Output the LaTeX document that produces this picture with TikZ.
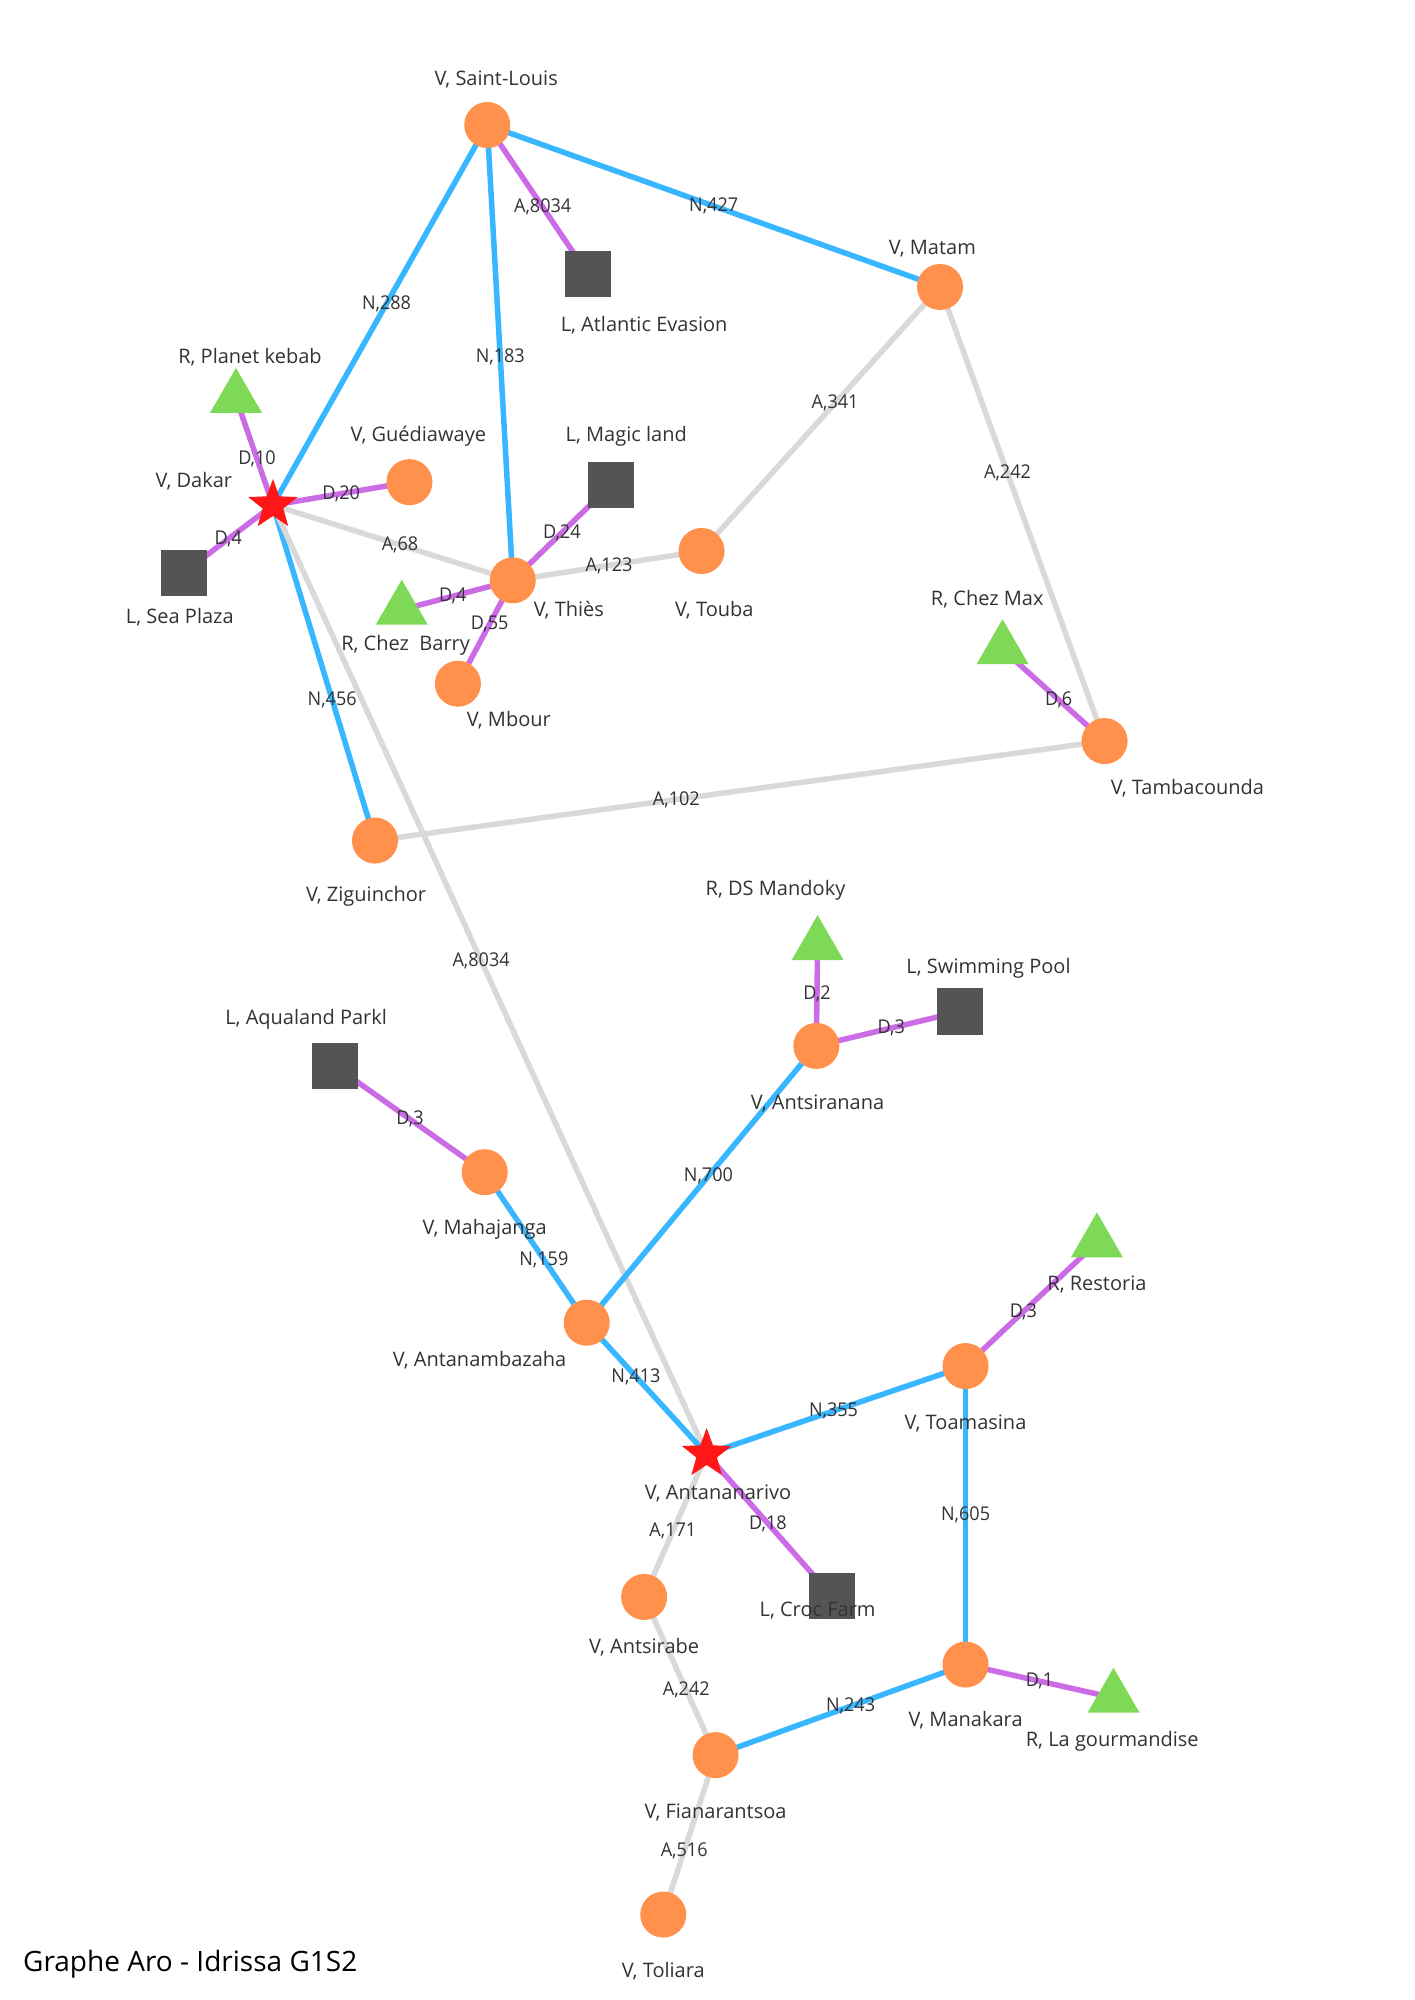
\documentclass[tikz,border=0pt]{standalone}
\usepackage{fontspec}
\setmainfont{Open Sans}
\newfontfamily\edgefont[FakeStretch=0.95]{Open Sans}
\usepackage{xcolor}
\usepackage{tikz}
\usetikzlibrary{shapes.geometric,backgrounds}

\definecolor{villeorange}{HTML}{FF914D}
\definecolor{capitalered}{HTML}{FF1616}
\definecolor{loisirgray}{HTML}{545454}
\definecolor{restogreen}{HTML}{7ED957}
\definecolor{nationalblue}{HTML}{38B6FF}
\definecolor{airgray}{HTML}{D9D9D9}
\definecolor{directpurple}{HTML}{CB6CE6}
\definecolor{txt}{HTML}{333333}

\tikzset{
    ville/.style={circle, fill=villeorange, minimum size=46pt, inner sep=0pt},
    capitale/.style={star, star points=5, star point ratio=2.4, fill=capitalered, minimum size=52pt, inner sep=0pt},
    loisir/.style={rectangle, fill=loisirgray, minimum size=46pt, inner sep=0pt},
    resto/.style={regular polygon, regular polygon sides=3, fill=restogreen, minimum size=60pt, inner sep=0pt},
    lbl/.style={font=\fontsize{20}{24}\selectfont, text=txt, inner sep=0pt},
    elbl/.style={font=\edgefont\fontsize{19}{22}\selectfont, text=txt, inner sep=0pt},
    titre/.style={font=\fontsize{28}{32}\selectfont, text=black, inner sep=0pt},
    nat/.style={draw=nationalblue, line width=5.5pt},
    aer/.style={draw=airgray, line width=5.5pt},
    dir/.style={draw=directpurple, line width=5.5pt}
}

\begin{document}
\begin{tikzpicture}[x=1.275pt, y=-1.275pt]
    \useasboundingbox (0,0) rectangle (1109,1568);

    % Senegal
    \node[ville] (saintlouis) at (382,98) {};
    \node[loisir] (atlantic) at (461,215) {};
    \node[ville] (matam) at (737,225) {};
    \node[resto] (planetkebab) at (185,312) {};
    \node[ville] (guediawaye) at (321,378) {};
    \node[loisir] (magicland) at (479,380) {};
    \node[capitale] (dakar) at (214,396) {};
    \node[loisir] (seaplaza) at (144,449) {};
    \node[ville] (thies) at (402,455) {};
    \node[resto] (chezbarry) at (315,478) {};
    \node[ville] (touba) at (550,432) {};
    \node[ville] (mbour) at (359,536) {};
    \node[resto] (chezmax) at (786,509) {};
    \node[ville] (tambacounda) at (866,581) {};
    \node[ville] (ziguinchor) at (294,659) {};

    % Madagascar
    \node[resto] (dsmandoky) at (641,741) {};
    \node[loisir] (swimmingpool) at (753,793) {};
    \node[ville] (antsiranana) at (640,820) {};
    \node[loisir] (aqualand) at (263,836) {};
    \node[ville] (mahajanga) at (380,919) {};
    \node[resto] (restoria) at (860,974) {};
    \node[ville] (antanambazaha) at (460,1037) {};
    \node[ville] (toamasina) at (757,1071) {};
    \node[capitale] (antananarivo) at (554,1140) {};
    \node[ville] (antsirabe) at (505,1252) {};
    \node[loisir] (crocfarm) at (652,1251) {};
    \node[ville] (manakara) at (757,1305) {};
    \node[resto] (gourmandise) at (873,1331) {};
    \node[ville] (fianarantsoa) at (561,1376) {};
    \node[ville] (toliara) at (520,1501) {};

    % Names of the places
    \node[lbl] (saintlouis-t) at (389,62) {V, Saint-Louis};
    \node[lbl] (atlantic-t) at (505,255) {L, Atlantic Evasion};
    \node[lbl] (matam-t) at (731,195) {V, Matam};
    \node[lbl] (planetkebab-t) at (196,280) {R, Planet kebab};
    \node[lbl] (guediawaye-t) at (328,342) {V, Guédiawaye};
    \node[lbl] (magicland-t) at (491,342) {L, Magic land};
    \node[lbl] (dakar-t) at (152,377) {V, Dakar};
    \node[lbl] (seaplaza-t) at (141,484) {L, Sea Plaza};
    \node[lbl] (thies-t) at (446,478) {V, Thiès};
    \node[lbl] (chezbarry-t) at (318,506) {R, Chez~ Barry};
    \node[lbl] (touba-t) at (560,478) {V, Touba};
    \node[lbl] (mbour-t) at (399,565) {V, Mbour};
    \node[lbl] (chezmax-t) at (774,470) {R, Chez Max};
    \node[lbl] (tambacounda-t) at (931,618) {V, Tambacounda};
    \node[lbl] (ziguinchor-t) at (287,703) {V, Ziguinchor};
    \node[lbl] (dsmandoky-t) at (608,698) {R, DS Mandoky};
    \node[lbl] (swimmingpool-t) at (775,759) {L, Swimming Pool};
    \node[lbl] (antsiranana-t) at (641,865) {V, Antsiranana};
    \node[lbl] (aqualand-t) at (240,799) {L, Aqualand Parkl};
    \node[lbl] (mahajanga-t) at (380,964) {V, Mahajanga};
    \node[lbl] (restoria-t) at (860,1007) {R, Restoria};
    \node[lbl] (antanambazaha-t) at (376,1066) {V, Antanambazaha};
    \node[lbl] (toamasina-t) at (757,1116) {V, Toamasina};
    \node[lbl] (antananarivo-t) at (563,1171) {V, Antananarivo};
    \node[lbl] (antsirabe-t) at (505,1291) {V, Antsirabe};
    \node[lbl] (crocfarm-t) at (641,1263) {L, Croc Farm};
    \node[lbl] (manakara-t) at (757,1349) {V, Manakara};
    \node[lbl] (gourmandise-t) at (872,1365) {R, La gourmandise};
    \node[lbl] (fianarantsoa-t) at (561,1421) {V, Fianarantsoa};
    \node[lbl] (toliara-t) at (520,1545) {V, Toliara};

    \node[titre, anchor=west] (titre) at (18,1540) {Graphe Aro - Idrissa G1S2};

    \begin{scope}[on background layer]
        \fill[white] (0,0) rectangle (1109,1568);

        % Senegal links
        \draw[nat] (saintlouis.center) -- node[elbl, pos=0.47] {N,288} (dakar.center);
        \draw[nat] (saintlouis.center) -- node[elbl, pos=0.51] {N,183} (thies.center);
        \draw[dir] (saintlouis.center) -- node[elbl, pos=0.55] {A,8034} (atlantic.center);
        \draw[nat] (saintlouis.center) -- node[elbl, pos=0.5] {N,427} (matam.center);
        \draw[aer] (matam.center) -- node[elbl, pos=0.44] {A,341} (touba.center);
        \draw[aer] (matam.center) -- node[elbl, pos=0.41] {A,242} (tambacounda.center);
        \draw[dir] (dakar.center) -- node[elbl, pos=0.43] {D,10} (planetkebab.center);
        \draw[dir] (dakar.center) -- node[elbl, pos=0.5] {D,20} (guediawaye.center);
        \draw[dir] (dakar.center) -- node[elbl, pos=0.5] {D,4} (seaplaza.center);
        \draw[aer] (dakar.center) -- node[elbl, pos=0.53] {A,68} (thies.center);
        \draw[nat] (dakar.center) -- node[elbl, pos=0.58] {N,456} (ziguinchor.center);
        \draw[aer] (dakar.center) -- node[elbl, pos=0.48] {A,8034} (antananarivo.center);
        \draw[dir] (thies.center) -- node[elbl, pos=0.5] {D,24} (magicland.center);
        \draw[aer] (thies.center) -- node[elbl, pos=0.51] {A,123} (touba.center);
        \draw[dir] (thies.center) -- node[elbl, pos=0.54] {D,4} (chezbarry.center);
        \draw[dir] (thies.center) -- node[elbl, pos=0.42] {D,55} (mbour.center);
        \draw[dir] (chezmax.center) -- node[elbl, pos=0.55] {D,6} (tambacounda.center);
        \draw[aer] (tambacounda.center) -- node[elbl, pos=0.587] {A,102} (ziguinchor.center);

        % Madagascar links
        \draw[dir] (dsmandoky.center) -- node[elbl, pos=0.48] {D,2} (antsiranana.center);
        \draw[dir] (antsiranana.center) -- node[elbl, pos=0.52] {D,3} (swimmingpool.center);
        \draw[nat] (antsiranana.center) -- node[elbl, pos=0.47] {N,700} (antanambazaha.center);
        \draw[dir] (aqualand.center) -- node[elbl, pos=0.5] {D,3} (mahajanga.center);
        \draw[nat] (mahajanga.center) -- node[elbl, pos=0.58] {N,159} (antanambazaha.center);
        \draw[nat] (antanambazaha.center) -- node[elbl, pos=0.41] {N,413} (antananarivo.center);
        \draw[dir] (restoria.center) -- node[elbl, pos=0.56] {D,3} (toamasina.center);
        \draw[nat] (toamasina.center) -- node[elbl, pos=0.51] {N,355} (antananarivo.center);
        \draw[nat] (toamasina.center) -- node[elbl, pos=0.5] {N,605} (manakara.center);
        \draw[dir] (antananarivo.center) -- node[elbl, pos=0.49] {D,18} (crocfarm.center);
        \draw[aer] (antananarivo.center) -- node[elbl, pos=0.54] {A,171} (antsirabe.center);
        \draw[aer] (antsirabe.center) -- node[elbl, pos=0.59] {A,242} (fianarantsoa.center);
        \draw[nat] (manakara.center) -- node[elbl, pos=0.46] {N,243} (fianarantsoa.center);
        \draw[dir] (manakara.center) -- node[elbl, pos=0.5] {D,1} (gourmandise.center);
        \draw[aer] (fianarantsoa.center) -- node[elbl, pos=0.6] {A,516} (toliara.center);
    \end{scope}
\end{tikzpicture}
\end{document}
